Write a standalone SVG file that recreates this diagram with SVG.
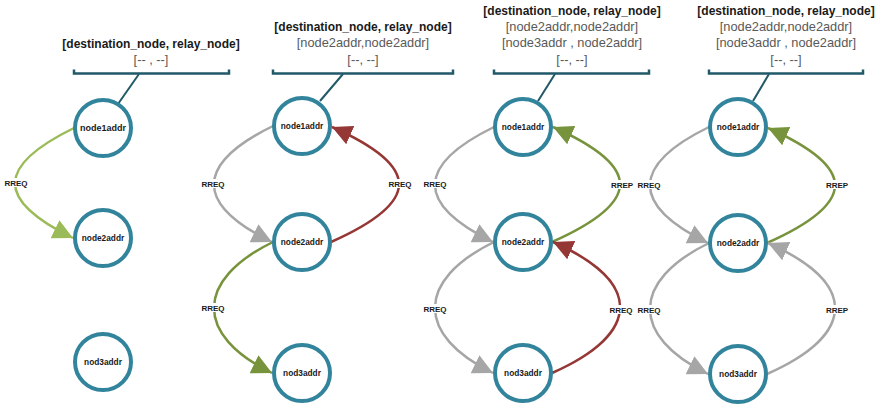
<svg xmlns="http://www.w3.org/2000/svg" width="880" height="406" viewBox="0 0 880 406">
  <style>
    .node circle { fill: #ffffff; stroke: #31849B; stroke-width: 4; }
    .node text { font-family: "Liberation Sans", Arial, sans-serif; font-weight: bold; font-size: 8.3px; fill: #1a1a1a; text-anchor: middle; }
    .hdr { font-family: "Liberation Sans", Arial, sans-serif; font-weight: bold; font-size: 12px; fill: #1a1a1a; text-anchor: middle; }
    .row { font-family: "Liberation Sans", Arial, sans-serif; font-size: 12.8px; fill: #595959; text-anchor: middle; }
    .bracket { fill: none; stroke: #215968; stroke-width: 2.5; }
    .stem { fill: none; stroke: #215968; stroke-width: 2; }
    .edge { fill: none; stroke-width: 2.5; }
    .lg { stroke: #9BBB59; }
    .gr { stroke: #77933C; }
    .rd { stroke: #953735; }
    .gy { stroke: #A6A6A6; }
    .lbl rect { fill: #ffffff; }
    .lbl text { font-family: "Liberation Sans", Arial, sans-serif; font-weight: bold; font-size: 8px; fill: #1a1a1a; text-anchor: middle; }
  </style>
  <defs>
    <marker id="ah-lg" markerUnits="userSpaceOnUse" markerWidth="21" markerHeight="20" refX="20" refY="10" orient="auto" viewBox="0 0 21 20">
      <path d="M0,0 L20,10 L0,20 z" fill="#9BBB59"/>
    </marker>
    <marker id="ah-gr" markerUnits="userSpaceOnUse" markerWidth="21" markerHeight="20" refX="20" refY="10" orient="auto" viewBox="0 0 21 20">
      <path d="M0,0 L20,10 L0,20 z" fill="#77933C"/>
    </marker>
    <marker id="ah-rd" markerUnits="userSpaceOnUse" markerWidth="21" markerHeight="20" refX="20" refY="10" orient="auto" viewBox="0 0 21 20">
      <path d="M0,0 L20,10 L0,20 z" fill="#953735"/>
    </marker>
    <marker id="ah-gy" markerUnits="userSpaceOnUse" markerWidth="21" markerHeight="20" refX="20" refY="10" orient="auto" viewBox="0 0 21 20">
      <path d="M0,0 L20,10 L0,20 z" fill="#A6A6A6"/>
    </marker>
  </defs>

  <rect width="880" height="406" fill="#ffffff"/>

  <!-- routing tables with brackets -->
  <g id="table-1">
    <text class="hdr" x="151" y="48">[destination_node, relay_node]</text>
    <text class="row" x="151" y="64">[-- , --]</text>
    <path class="bracket" d="M74,69.5 V73.5 H229 V69.5"/>
  </g>
  <g id="table-2">
    <text class="hdr" x="363" y="31">[destination_node, relay_node]</text>
    <text class="row" x="363" y="47">[node2addr,node2addr]</text>
    <text class="row" x="363" y="63.5">[--, --]</text>
    <path class="bracket" d="M273,69.5 V73.5 H453 V69.5"/>
  </g>
  <g id="table-3">
    <text class="hdr" x="572" y="15">[destination_node, relay_node]</text>
    <text class="row" x="572" y="31">[node2addr,node2addr]</text>
    <text class="row" x="572" y="47">[node3addr , node2addr]</text>
    <text class="row" x="572" y="63.5">[--, --]</text>
    <path class="bracket" d="M494,69.5 V73.5 H649 V69.5"/>
  </g>
  <g id="table-4">
    <text class="hdr" x="786" y="15">[destination_node, relay_node]</text>
    <text class="row" x="786" y="31">[node2addr,node2addr]</text>
    <text class="row" x="786" y="47">[node3addr , node2addr]</text>
    <text class="row" x="786" y="63.5">[--, --]</text>
    <path class="bracket" d="M709,69.5 V73.5 H863 V69.5"/>
  </g>

  <!-- connectors -->
  <g id="connectors">
    <!-- table stems -->
    <path class="stem" d="M139,74 L118,104"/>
    <path class="stem" d="M343,74 L320,101"/>
    <path class="stem" d="M555,74 L538,101"/>
    <path class="stem" d="M769,74 L753,101"/>

    <!-- panel 1 -->
    <path class="edge lg" marker-end="url(#ah-lg)" d="M74,128 C-4,166 -5,200 73,238"/>

    <!-- panel 2 -->
    <path class="edge gy" marker-end="url(#ah-gy)" d="M273,126 C195,164 194,204 272,242"/>
    <path class="edge rd" marker-end="url(#ah-rd)" d="M331,242 C421,202 422,167 332,127"/>
    <path class="edge gr" marker-end="url(#ah-gr)" d="M273,242 C195,280 194,335 272,373"/>

    <!-- panel 3 -->
    <path class="edge gy" marker-end="url(#ah-gy)" d="M494,127 C416,165 415,204 493,242"/>
    <path class="edge gr" marker-end="url(#ah-gr)" d="M552,242 C642,202 643,167 553,127"/>
    <path class="edge gy" marker-end="url(#ah-gy)" d="M494,242 C416,280 415,335 493,373"/>
    <path class="edge rd" marker-end="url(#ah-rd)" d="M552,373 C642,333 643,282 553,242"/>

    <!-- panel 4 -->
    <path class="edge gy" marker-end="url(#ah-gy)" d="M709,127 C631,165 630,205 708,243"/>
    <path class="edge gr" marker-end="url(#ah-gr)" d="M767,243 C857,203 858,168 768,128"/>
    <path class="edge gy" marker-end="url(#ah-gy)" d="M709,243 C631,281 630,336 708,374"/>
    <path class="edge gy" marker-end="url(#ah-gy)" d="M767,374 C857,334 858,283 768,243"/>

    <!-- message labels -->
    <g class="lbl">
      <rect x="4" y="178" width="24" height="9"/><text x="16" y="185.5">RREQ</text>
      <rect x="201" y="179" width="24" height="9"/><text x="213" y="186.5">RREQ</text>
      <rect x="388" y="179" width="24" height="9"/><text x="400" y="186.5">RREQ</text>
      <rect x="201" y="303" width="24" height="9"/><text x="213" y="310.5">RREQ</text>
      <rect x="423" y="179" width="24" height="9"/><text x="435" y="186.5">RREQ</text>
      <rect x="611" y="180" width="22" height="9"/><text x="622" y="187.5">RREP</text>
      <rect x="423" y="304" width="24" height="9"/><text x="435" y="311.5">RREQ</text>
      <rect x="609" y="305" width="24" height="9"/><text x="621" y="312.5">RREQ</text>
      <rect x="637" y="180" width="24" height="9"/><text x="649" y="187.5">RREQ</text>
      <rect x="826" y="180" width="22" height="9"/><text x="837" y="187.5">RREP</text>
      <rect x="637" y="305" width="24" height="9"/><text x="649" y="312.5">RREQ</text>
      <rect x="826" y="305" width="22" height="9"/><text x="837" y="312.5">RREP</text>
    </g>
  </g>

  <!-- nodes -->
  <g id="p1-node1" class="node"><circle cx="103" cy="128" r="28"/><text x="103" y="131" style="font-size:9px">node1addr</text></g>
  <g id="p1-node2" class="node"><circle cx="103" cy="238" r="28"/><text x="103" y="241">node2addr</text></g>
  <g id="p1-node3" class="node"><circle cx="103" cy="362" r="28"/><text x="103" y="365">nod3addr</text></g>

  <g id="p2-node1" class="node"><circle cx="302" cy="126" r="28"/><text x="302" y="129">node1addr</text></g>
  <g id="p2-node2" class="node"><circle cx="302" cy="242" r="28"/><text x="302" y="245">node2addr</text></g>
  <g id="p2-node3" class="node"><circle cx="302" cy="373" r="28"/><text x="302" y="376">nod3addr</text></g>

  <g id="p3-node1" class="node"><circle cx="523" cy="127" r="28"/><text x="523" y="130">node1addr</text></g>
  <g id="p3-node2" class="node"><circle cx="523" cy="242" r="28"/><text x="523" y="245">node2addr</text></g>
  <g id="p3-node3" class="node"><circle cx="523" cy="373" r="28"/><text x="523" y="376">nod3addr</text></g>

  <g id="p4-node1" class="node"><circle cx="738" cy="127" r="28"/><text x="738" y="130">node1addr</text></g>
  <g id="p4-node2" class="node"><circle cx="738" cy="243" r="28"/><text x="738" y="246">node2addr</text></g>
  <g id="p4-node3" class="node"><circle cx="738" cy="374" r="28"/><text x="738" y="377">nod3addr</text></g>
</svg>
